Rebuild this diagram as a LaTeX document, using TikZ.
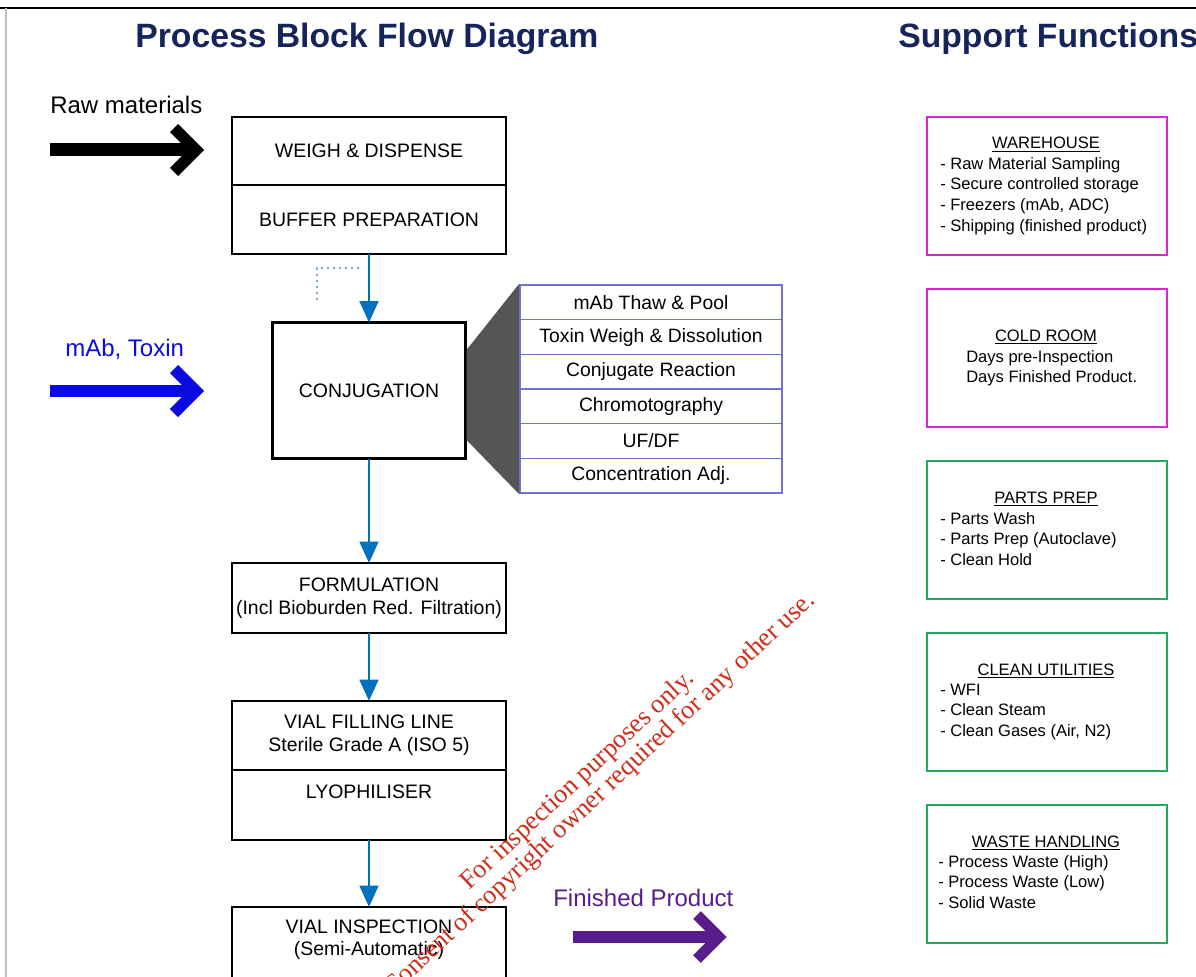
\documentclass[tikz,border=0pt]{standalone}
\usepackage{fontspec}
\setmainfont{Liberation Sans}
\newfontfamily\wmfont{Liberation Serif}
\usetikzlibrary{matrix,arrows.meta,positioning,calc}

\definecolor{titleblue}{RGB}{22,36,92}
\definecolor{flowblue}{RGB}{0,112,192}
\definecolor{dotblue}{RGB}{110,170,220}
\definecolor{inblue}{RGB}{10,10,225}
\definecolor{cellblue}{RGB}{112,112,215}
\definecolor{whmag}{RGB}{215,40,205}
\definecolor{utilgreen}{RGB}{30,170,95}
\definecolor{prodpurple}{RGB}{88,28,140}
\definecolor{wmred}{RGB}{205,45,25}
\definecolor{fangray}{RGB}{85,85,85}

\tikzset{
  procbox/.style={draw, line width=2.2pt, minimum width=205.5pt, inner sep=0pt, outer sep=0pt,
    align=center, font=\fontsize{14.6}{17.5}\selectfont},
  boxtext/.style={align=center, inner sep=0pt, font=\fontsize{14.6}{16.5}\selectfont},
  stepcell/.style={draw=cellblue, line width=1.1pt, minimum width=196.5pt, minimum height=26pt,
    inner sep=0pt, outer sep=0pt, font=\fontsize{14.5}{17}\selectfont},
  flow/.style={draw=flowblue, line width=1.9pt, -{Triangle[length=16pt,width=14pt]}},
  supbox/.style={draw=#1, line width=2.2pt, minimum width=180pt, minimum height=103.5pt,
    inner sep=0pt, outer sep=0pt},
  suptitle/.style={font=\fontsize{12.4}{15.45}\selectfont, inner sep=0pt, anchor=base},
  % base west = baseline of the last line
  supitems/.style={font=\fontsize{12.4}{15.45}\selectfont, align=left, inner sep=0pt, anchor=base west},
  fatarrow/.style={line width=#1, line join=miter},
  heading/.style={font=\fontsize{25.3}{30}\selectfont\bfseries, text=titleblue, anchor=base west, inner sep=0pt},
  inlabel/.style={font=\fontsize{18}{21}\selectfont, anchor=base west, inner sep=0pt},
  watermark/.style={font=\wmfont\fontsize{19.7}{24}\selectfont, text=wmred, rotate=43, inner sep=0pt}
}

\begin{document}
\begin{tikzpicture}[x=0.75pt, y=-0.75pt]
  \useasboundingbox (0,0) rectangle (1196,977);
  % frame
  \draw[line width=1.5pt] (0,8) -- (1196,8);
  \draw[gray!50, line width=1pt] (6,8) -- (6,977);

  % headings
  \node[heading] (hproc) at (135,48) {Process Block Flow Diagram};
  \node[heading] (hsupp) at (898,48) {Support Functions};

  % process blocks
  \node[procbox, minimum height=51pt] (weigh) at (369,151) {WEIGH \& DISPENSE};
  \node[procbox, minimum height=51.75pt, below=0pt of weigh] (buffer) {BUFFER PREPARATION};
  \node[procbox, minimum width=144.75pt, minimum height=102pt] (conj) at (369,390.5) {CONJUGATION};
  \node[procbox, minimum height=52.5pt] (form) at (369,598) {FORMULATION\\(Incl Bioburden Red. Filtration)};
  \node[procbox, minimum height=51.75pt] (fill) at (369,735.5) {VIAL FILLING LINE\\Sterile Grade A (ISO 5)};
  \node[procbox, minimum height=52.5pt, below=0pt of fill] (lyo) {};
  \node[boxtext] (lyoT) at (369,792) {LYOPHILISER};
  \node[procbox, minimum height=58pt, anchor=north] (insp) at (369,907) {};
  \node[boxtext] (inspT) at (369,940) {VIAL INSPECTION\\(Semi-Automatic)};

  % flow
  \draw[flow] (buffer.south) -- (conj.north);
  \draw[flow] (conj.south) -- (form.north);
  \draw[flow] (form.south) -- (fill.north);
  \draw[flow] (lyo.south) -- (insp.north);

  \coordinate (dotA) at (317,300);
  \coordinate (dotB) at (317,268);
  \coordinate (dotC) at (360,268);
  \draw[dotblue, line width=1.5pt, dash pattern=on 1.5pt off 3pt] (dotA) -- (dotB) -- (dotC);

  % conjugation steps
  \matrix (steps) [matrix of nodes, anchor=north west, inner sep=0pt, row sep=-1.1pt, nodes={stepcell}] at (519,284)
  {
    mAb Thaw \& Pool \\
    Toxin Weigh \& Dissolution \\
    Conjugate Reaction \\
    Chromotography \\
    UF/DF \\
    Concentration Adj. \\
  };
  \fill[fangray] ($(conj.east)+(1,-40.5)$) -- (steps.north west) -- (steps.south west) -- ($(conj.east)+(1,49.5)$) -- cycle;

  % inputs and output
  \node[inlabel] (rawL) at (50,114) {Raw materials};
  \coordinate (rawS) at (50,150);
  \coordinate (rawE) at (196,150);
  \draw[fatarrow=9.75pt] (rawS) -- (rawE);
  \draw[fatarrow=8.5pt] ($(rawE)+(-22,-22)$) -- (rawE) -- ($(rawE)+(-22,22)$);

  \node[inlabel, text=inblue] (toxL) at (65,356) {mAb, Toxin};
  \coordinate (toxS) at (50,391);
  \coordinate (toxE) at (196,391);
  \draw[inblue, fatarrow=9pt] (toxS) -- (toxE);
  \draw[inblue, fatarrow=8.5pt] ($(toxE)+(-22,-22)$) -- (toxE) -- ($(toxE)+(-22,22)$);

  \node[inlabel, text=prodpurple] (prodL) at (553,906) {Finished Product};
  \coordinate (prodS) at (573,937);
  \coordinate (prodE) at (719,937);
  \draw[prodpurple, fatarrow=8.5pt] (prodS) -- (prodE);
  \draw[prodpurple, fatarrow=8pt] ($(prodE)+(-22,-22)$) -- (prodE) -- ($(prodE)+(-22,22)$);

  % support functions
  \node[supbox=whmag] (ware) at (1047,186) {};
  \node[suptitle] (wareT) at (1046,149) {\underline{WAREHOUSE}};
  \node[supitems] (wareL) at (940,231) {- Raw Material Sampling\\- Secure controlled storage\\- Freezers (mAb, ADC)\\- Shipping (finished product)};

  \node[supbox=whmag] (cold) at (1047,358) {};
  \node[suptitle] (coldT) at (1046,341) {\underline{COLD ROOM}};
  \node[supitems] (coldL) at (966,382.6) {Days pre-Inspection\\Days Finished Product.};

  \node[supbox=utilgreen] (parts) at (1047,530) {};
  \node[suptitle] (partsT) at (1046,503) {\underline{PARTS PREP}};
  \node[supitems] (partsL) at (940,565.2) {- Parts Wash\\- Parts Prep (Autoclave)\\- Clean Hold};

  \node[supbox=utilgreen] (util) at (1047,702) {};
  \node[suptitle] (utilT) at (1046,675) {\underline{CLEAN UTILITIES}};
  \node[supitems] (utilL) at (940,736.2) {- WFI\\- Clean Steam\\- Clean Gases (Air, N2)};

  \node[supbox=utilgreen] (waste) at (1047,874) {};
  \node[suptitle] (wasteT) at (1046,847) {\underline{WASTE HANDLING}};
  \node[supitems] (wasteL) at (938,908.2) {- Process Waste (High)\\- Process Waste (Low)\\- Solid Waste};

  % watermark
  \node[watermark, anchor=base west] (wm1) at (469,891) {For inspection purposes only.};
  \node[watermark, anchor=base east] (wm2) at (816,602) {Consent of copyright owner required for any other use.};
\end{tikzpicture}
\end{document}
